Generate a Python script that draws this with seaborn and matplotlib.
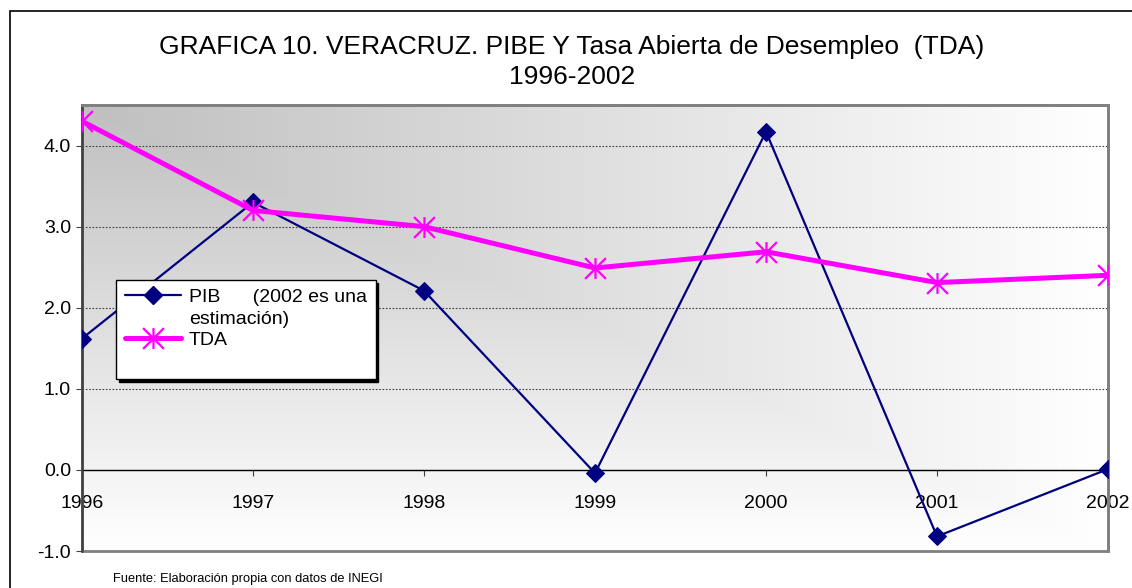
import numpy as np
import pandas as pd
import matplotlib
matplotlib.use('Agg')
import matplotlib.pyplot as plt
from matplotlib.path import Path
from matplotlib.patches import Rectangle
from matplotlib.lines import Line2D
import seaborn as sns

# datos
years = [1996, 1997, 1998, 1999, 2000, 2001, 2002]
pib = [1.62, 3.30, 2.21, -0.04, 4.17, -0.82, 0.01]
tda = [4.30, 3.20, 3.00, 2.49, 2.69, 2.31, 2.40]
yticks = [-1.0, 0.0, 1.0, 2.0, 3.0, 4.0]

titulo = 'GRAFICA 10. VERACRUZ. PIBE Y Tasa Abierta de Desempleo  (TDA)\n1996-2002'
fuente = 'Fuente: Elaboración propia con datos de INEGI'
label_pib = 'PIB      (2002 es una'
label_pib2 = 'estimación)'
label_tda = 'TDA'

sns.set_style('white')
plt.rcParams['font.family'] = ['Liberation Sans', 'DejaVu Sans']
plt.rcParams['text.color'] = 'black'
plt.rcParams['xtick.labelcolor'] = 'black'
plt.rcParams['ytick.labelcolor'] = 'black'

df = pd.DataFrame({'year': years, 'pib': pib, 'tda': tda})

fig = plt.figure(figsize=(11.32, 5.88), dpi=100)
ax = fig.add_axes([82 / 1132, 1 - 551 / 588, (1108 - 82) / 1132, (551 - 105) / 588])

# fondo degradado (gris arriba-izquierda -> blanco)
xf = np.linspace(0, 1, 300)[None, :]
yf = np.linspace(0, 1, 200)[:, None]
t = np.clip(np.maximum(xf, yf), 0, 1)
g = 0.75 + 0.25 * t
img = np.dstack([g, g, g])
ax.imshow(img, extent=(0, 1, 0, 1), transform=ax.transAxes, aspect='auto',
          zorder=0, origin='upper')

# marcador tipo estrella de Excel (X + linea vertical)
star = Path([(-1, -1), (1, 1), (-1, 1), (1, -1), (0, -1), (0, 1)],
            [Path.MOVETO, Path.LINETO, Path.MOVETO, Path.LINETO, Path.MOVETO, Path.LINETO])

pib_style = dict(color='#000080', linewidth=1.6, marker='D', markersize=9,
                 markeredgecolor='#000080', markerfacecolor='#000080')
tda_style = dict(color='#FF00FF', linewidth=3.6, marker=star, markersize=15,
                 markeredgecolor='#FF00FF', markeredgewidth=1.6, fillstyle='none')

sns.lineplot(data=df, x='year', y='pib', ax=ax, zorder=3, legend=False, **pib_style)
sns.lineplot(data=df, x='year', y='tda', ax=ax, zorder=4, legend=False, **tda_style)

ax.set_xlim(1996, 2002)
ax.set_ylim(-1, 4.5)
ax.set_xticks(years)
ax.set_xticklabels([str(y) for y in years])
ax.set_yticks(yticks)
ax.set_yticklabels([f'{v:.1f}' for v in yticks])
ax.set_xlabel('')
ax.set_ylabel('')

ax.yaxis.grid(True, linestyle=(0, (1.5, 1.5)), color='#404040', linewidth=0.8)
ax.xaxis.grid(False)
for gl in ax.get_ygridlines():
    gl.set_zorder(1)

ax.spines['bottom'].set_position(('data', 0))
ax.spines['bottom'].set_color('black')
ax.spines['bottom'].set_linewidth(1.0)
ax.spines['bottom'].set_zorder(2)
ax.spines['left'].set_color('#404040')
ax.spines['left'].set_linewidth(1.8)
for s in ['top', 'right']:
    ax.spines[s].set_color('#808080')
    ax.spines[s].set_linewidth(2.0)
ax.add_patch(Rectangle((0, 0), 1, 1, transform=ax.transAxes, fill=False,
                       edgecolor='#808080', linewidth=2.0, zorder=1.5, clip_on=False))

ax.tick_params(axis='x', direction='out', length=4, width=0.8, color='#404040',
               pad=14, labelsize=14, bottom=True, labelcolor='black')
ax.tick_params(axis='y', direction='out', length=4, width=0.8, color='#404040',
               pad=4, labelsize=14, left=True, labelcolor='black')

h_pib = Line2D([], [], **pib_style)
h_blank = Line2D([], [], color='none')
h_tda = Line2D([], [], **tda_style)
leg = ax.legend(handles=[h_pib, h_blank, h_tda, h_blank],
                labels=[label_pib, label_pib2, label_tda, ' '],
                loc='upper left', bbox_to_anchor=(0.033, 0.608), fontsize=14,
                frameon=True, fancybox=False, edgecolor='black', framealpha=1,
                shadow={'color': 'black', 'alpha': 1}, handlelength=2.9,
                borderpad=0.45, labelspacing=0.2, handletextpad=0.4, borderaxespad=0,
                labelcolor='black')
leg.get_frame().set_linewidth(1.0)
leg.set_zorder(10)

fig.text(572 / 1132, 1 - 62 / 588, titulo, ha='center', va='center', fontsize=19,
         linespacing=1.3, color='black')
fig.text(113 / 1132, 1 - 579 / 588, fuente, ha='left', va='center', fontsize=9.3,
         color='black')

# marco exterior
fig.patches.append(Rectangle((10 / 1132, -0.05), 1.2, 0.05 + (1 - 11 / 588),
                             transform=fig.transFigure, fill=False,
                             edgecolor='black', linewidth=1.2))

fig.savefig('out.png', dpi=100)
